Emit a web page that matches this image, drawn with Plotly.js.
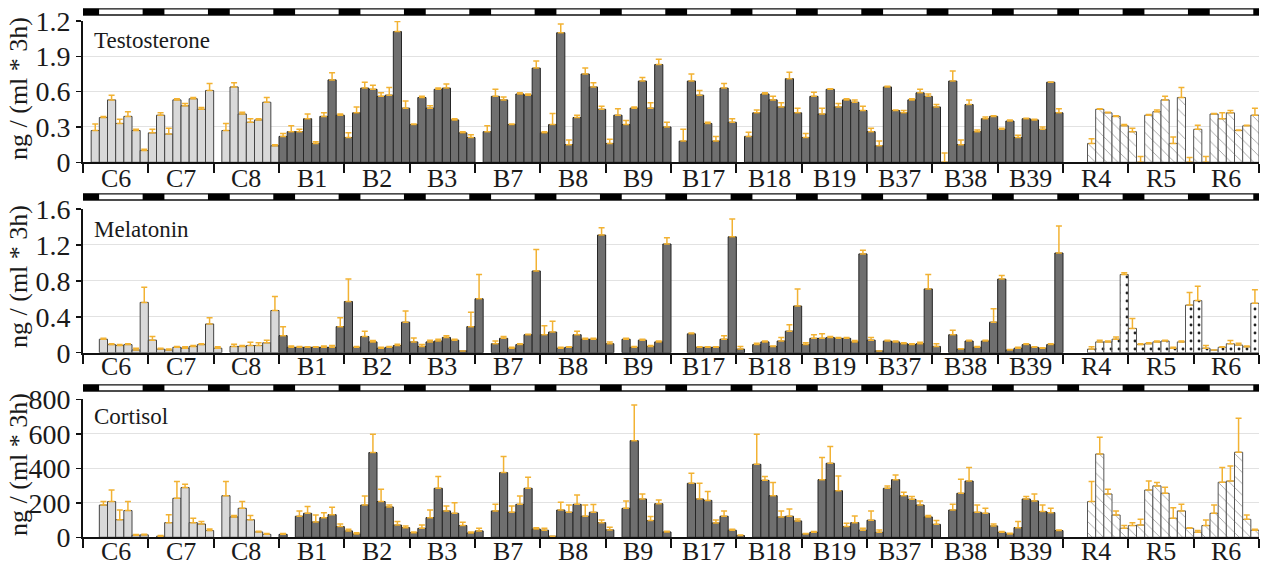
<!DOCTYPE html>
<html><head><meta charset="utf-8">
<script src="https://cdn.plot.ly/plotly-3.0.1.min.js"></script>
<style>html,body{margin:0;padding:0;background:#fff}#chart{width:1268px;height:571px}</style>
</head><body><div id="chart"></div>
<script>
const groups = ['C6','C7','C8','B1','B2','B3','B7','B8','B9','B17','B18','B19','B37','B38','B39','R4','R5','R6'];
const panelTitles = ['Testosterone','Melatonin','Cortisol'];
const yTitle = 'ng / (ml * 3h)';
const testoTickVals = [0,0.3,0.6,0.9,1.2];
const testoTickText = ['0','0.3','0.6','1.9','1.2'];
const melaTickVals = [0,0.4,0.8,1.2,1.6];
const melaTickText = ['0','0.4','0.8','1.2','1.6'];
const cortTickVals = [0,200,400,600,800];
const cortTickText = ['0','200','400','600','800'];

// 8 samples (3h each) per animal
const testoMean = [
 null,0.27,0.38,0.53,0.33,0.39,0.27,0.10,
 0.25,0.40,0.24,0.53,0.48,0.54,0.45,0.61,
 null,0.27,0.64,0.41,0.34,0.36,0.51,0.14,
 0.22,0.26,0.26,0.37,0.16,0.39,0.70,0.40,
 0.21,0.42,0.63,0.62,0.56,0.57,1.11,0.46,
 0.32,0.55,0.46,0.62,0.63,0.36,0.25,0.21,
 null,0.26,0.56,0.53,0.32,0.58,0.57,0.80,
 0.25,0.32,1.10,0.15,0.38,0.75,0.64,0.45,
 0.16,0.40,0.32,0.46,0.69,0.46,0.83,0.30,
 null,0.18,0.69,0.57,0.33,0.18,0.63,0.34,
 null,0.22,0.42,0.58,0.53,0.47,0.71,0.42,
 0.21,0.56,0.41,0.62,0.47,0.53,0.51,0.44,
 0.26,0.14,0.64,0.44,0.42,0.53,0.59,0.56,
 0.47,0,0.69,0.15,0.49,0.26,0.37,0.39,
 0.28,0.35,0.21,0.37,0.36,0.28,0.68,0.42,
 null,null,null,0.16,0.45,0.42,0.39,0.31,
 0.26,0,0.40,0.43,0.53,0.16,0.55,0,
 0.28,0,0.41,0.37,0.42,0.27,0.31,0.40
];
const testoErr = [
 0,0.055,0.01,0.04,0.035,0.04,0.01,0.01,
 0.03,0.02,0.05,0.01,0.02,0.01,0.015,0.06,
 0,0.06,0.035,0.015,0.03,0.01,0.04,0.01,
 0.025,0.05,0.02,0.04,0.015,0.03,0.06,0.01,
 0.04,0.05,0.05,0.035,0.03,0.065,0.085,0.06,
 0.005,0.01,0.02,0.01,0.035,0.01,0.01,0.025,
 0,0.05,0.06,0.025,0.005,0.01,0.01,0.06,
 0.01,0.095,0.075,0.04,0.02,0.05,0.035,0.025,
 0.035,0.055,0.035,0.01,0.03,0.045,0.045,0.04,
 0,0.10,0.06,0.04,0.01,0.04,0.04,0.03,
 0,0.035,0.025,0.01,0.03,0.035,0.055,0.04,
 0.035,0.035,0.05,0.005,0.03,0.01,0.02,0.035,
 0.03,0.04,0.005,0.005,0.02,0.01,0.03,0.02,
 0.02,0.08,0.085,0.04,0.04,0.015,0.015,0.005,
 0.01,0.01,0.02,0.005,0.005,0.02,0.003,0.035,
 0,0,0,0.04,0.005,0.005,0.005,0.01,
 0.03,0.05,0.005,0.015,0.03,0.055,0.085,0.04,
 0.035,0.05,0.005,0.05,0.02,0.005,0.005,0.06
];
const melaMean = [
 null,null,0.15,0.09,0.08,0.09,0.03,0.56,
 0.14,0.04,0.03,0.06,0.05,0.07,0.09,0.32,
 0.05,null,0.07,0.07,0.08,0.08,0.11,0.47,
 0.19,0.06,0.06,0.06,0.06,0.06,0.06,0.29,
 0.57,0.06,0.18,0.12,0.05,0.06,0.08,0.34,
 0.12,0.07,0.12,0.13,0.17,0.14,0.02,0.29,
 0.60,null,0.10,0.16,0.05,0.09,0.20,0.91,
 0.20,0.23,0.05,0.06,0.20,0.15,0.15,1.31,
 0.10,null,0.15,0.06,0.14,0.07,0.12,1.21,
 null,null,0.21,0.06,0.06,0.06,0.15,1.29,
 0.04,null,0.09,0.12,0.07,0.13,0.24,0.52,
 0.09,0.16,0.16,0.17,0.16,0.16,0.12,1.10,
 0.14,0.02,0.13,0.12,0.10,0.09,0.10,0.71,
 0.07,null,0.20,0.04,0.13,0.06,0.13,0.34,
 0.82,0.03,0.05,0.09,0.06,0.05,0.09,1.11,
 null,null,null,0.04,0.12,0.12,0.15,0.87,
 0.27,0.09,0.10,0.12,0.13,0.05,0.12,0.53,
 0.58,0.05,0.03,0.06,0.10,0.085,0.065,0.55
];
const melaErr = [
 0,0,0.01,0.01,0.01,0.01,0.02,0.17,
 0.04,0.01,0.01,0.01,0.015,0.01,0.01,0.07,
 0.015,0,0.025,0.01,0.035,0.03,0.03,0.155,
 0.10,0.015,0.01,0.005,0.005,0.015,0.02,0.10,
 0.25,0.01,0.06,0.015,0.01,0.01,0.015,0.125,
 0.045,0.02,0.02,0.02,0.02,0.01,0,0.16,
 0.27,0,0.03,0.02,0.01,0.01,0.005,0.24,
 0.10,0.12,0.01,0.005,0.04,0.01,0.01,0.08,
 0.02,0,0.01,0.01,0.01,0.01,0.01,0.07,
 0,0,0.01,0.005,0.005,0.005,0.04,0.20,
 0.03,0,0.015,0.01,0.005,0.04,0.07,0.19,
 0.02,0.04,0.05,0.01,0.01,0.01,0.015,0.04,
 0.03,0,0.01,0.01,0.01,0.01,0.015,0.16,
 0.03,0,0.05,0.005,0.01,0.01,0.01,0.15,
 0.04,0.005,0.01,0.01,0.005,0.005,0.01,0.30,
 0,0,0,0.025,0.02,0.01,0.025,0.02,
 0.11,0.01,0.01,0.01,0.01,0.01,0.01,0.14,
 0.16,0.03,0,0.005,0.035,0.02,0.01,0.15
];
const cortMean = [
 null,null,187,207,102,155,12,14,
 null,6,85,226,288,85,77,39,
 null,241,118,168,102,31,17,null,
 17,null,122,139,89,114,131,62,
 37,19,187,491,207,176,71,56,
 27,52,114,284,153,139,68,25,
 37,null,153,375,145,191,284,48,
 41,6,158,145,191,122,145,85,
 43,null,168,560,222,97,195,31,
 null,null,313,222,214,83,122,41,
 10,null,423,330,241,118,122,95,
 19,29,334,429,270,62,85,41,
 99,29,284,334,241,220,187,118,
 75,null,158,255,326,145,139,66,
 29,19,56,222,211,149,143,39,
 null,null,null,207,483,251,129,52,
 68,71,274,298,255,110,153,52,
 29,68,139,319,326,493,104,41
];
const cortErr = [
 0,0,20,67,56,52,4,3,
 0,4,45,97,19,25,14,9,
 0,82,8,39,24,4,5,0,
 5,0,30,40,40,28,43,15,
 9,8,53,106,71,11,20,10,
 3,19,44,68,29,62,19,5,
 15,0,38,93,37,49,64,7,
 11,0,45,42,54,65,45,15,
 15,0,43,207,29,23,21,4,
 0,0,58,91,51,17,31,6,
 3,0,174,22,76,35,42,11,
 3,4,128,97,85,19,39,11,
 54,13,14,27,20,16,24,8,
 22,0,33,81,78,42,29,11,
 5,4,35,14,40,38,25,4,
 0,0,0,116,97,27,24,16,
 17,33,53,19,35,62,38,4,
 10,32,48,85,87,197,25,6
];

const FONT = 'Liberation Serif, Times New Roman, serif';
const ERRC = '#F2B233';
const NB = groups.length * 8;
const idx = Array.from({length: NB}, (_, i) => i);

const panels = [
  {mean: testoMean, err: testoErr, range:[0,1.2], tv: testoTickVals, tt: testoTickText, dom:[1-162.3/571, 1-21/571], strip:[1-15/571, 1-8.8/571], labY: 1-178.5/571, titleY: 1-40/571, ytY: 1-89/571, pat:'\\'},
  {mean: melaMean, err: melaErr, range:[0,1.6], tv: melaTickVals, tt: melaTickText, dom:[1-352.7/571, 1-209/571], strip:[1-200/571, 1-193.8/571], labY: 1-366/571, titleY: 1-229/571, ytY: 1-277/571, pat:'.'},
  {mean: cortMean, err: cortErr, range:[0,800], tv: cortTickVals, tt: cortTickText, dom:[1-537.3/571, 1-399.3/571], strip:[1-391/571, 1-384.8/571], labY: 1-551.5/571, titleY: 1-416/571, ytY: 1-465/571, pat:'\\'}
];

const types = [
  {g0:0, g1:3, fill:'#d9d9d9', line:'#444444', pattern:false},
  {g0:3, g1:15, fill:'#6f6f6f', line:'#262626', pattern:false},
  {g0:15, g1:18, fill:'#ffffff', line:'#555555', pattern:true}
];

const data = [];
const layout = {
  width:1268, height:571,
  margin:{l:83, r:9, t:0, b:0, autoexpand:false},
  paper_bgcolor:'#fff', plot_bgcolor:'#fff',
  showlegend:false, barmode:'overlay',
  shapes:[], annotations:[]
};
const boundaries = [];
for (let g = 0; g <= groups.length; g++) boundaries.push(g*8 - 0.5);

panels.forEach((p, k) => {
  const s = k === 0 ? '' : String(k+1);
  types.forEach(t => {
    const a = t.g0*8, b = t.g1*8;
    const marker = {color: t.fill, line:{color: t.line, width:1}};
    if (t.pattern) marker.pattern = p.pat === '.'
      ? {shape:'.', fgcolor:'#222', bgcolor:'#fff', size:8, solidity:0.1, fillmode:'replace'}
      : {shape:'\\', fgcolor:'#444', fgopacity:0.8, bgcolor:'#fff', size:8, solidity:0.07, fillmode:'replace'};
    data.push({
      type:'bar', x: idx.slice(a,b), y: p.mean.slice(a,b), width:1,
      xaxis:'x'+s, yaxis:'y'+s, marker,
      error_y:{type:'data', symmetric:false, array:p.err.slice(a,b), arrayminus:p.err.slice(a,b).map(()=>0), color:ERRC, thickness:1.5, width:3},
      hoverinfo:'skip'
    });
  });
  layout['xaxis'+s] = {
    anchor:'y'+s, range:[-0.5, NB-0.5], showline:true, linecolor:'#111', linewidth:2,
    tickmode:'array', tickvals: boundaries, ticktext: boundaries.map(()=>''),
    ticks:'outside', ticklen:9, tickwidth:2, tickcolor:'#111',
    showgrid:false, zeroline:false, fixedrange:true
  };
  layout['yaxis'+s] = {
    anchor:'x'+s, domain:p.dom, range:p.range, tickmode:'array', tickvals:p.tv, ticktext:p.tt,
    ticks:'outside', ticklen:5, tickwidth:1.5, tickcolor:'#111',
    showline:true, linecolor:'#111', linewidth:2,
    showgrid:true, gridcolor:'#e2e2e2', gridwidth:1, zeroline:false,
    tickfont:{family:FONT, size:28, color:'#1a1a1a'}, fixedrange:true
  };
  // light/dark strip
  layout.shapes.push({type:'rect', xref:'x'+s, yref:'paper', x0:-0.5, x1:NB-0.5, y0:p.strip[0], y1:p.strip[1], fillcolor:'#fff', line:{color:'#111', width:1.3}, layer:'above'});
  boundaries.forEach(bd => {
    const x0 = Math.max(-0.5, bd - 0.7), x1 = Math.min(NB-0.5, bd + 1.97);
    if (x1 > x0) layout.shapes.push({type:'rect', xref:'x'+s, yref:'paper', x0, x1, y0:p.strip[0], y1:p.strip[1], fillcolor:'#000', line:{width:0}, layer:'above'});
  });
  // group labels
  groups.forEach((g, i) => {
    layout.annotations.push({xref:'x'+s, yref:'paper', x: i*8+3.5, y: p.labY, text: g, showarrow:false, xanchor:'center', yanchor:'middle', font:{family:FONT, size:26, color:'#1a1a1a'}});
  });
  layout.annotations.push({xref:'paper', yref:'paper', x: 9/1176, y: p.titleY, text: panelTitles[k], showarrow:false, xanchor:'left', yanchor:'middle', font:{family:FONT, size:23, color:'#1a1a1a'}});
  layout.annotations.push({xref:'paper', yref:'paper', x: -65/1176, y: p.ytY, text: yTitle, textangle:-90, showarrow:false, xanchor:'center', yanchor:'middle', font:{family:FONT, size:26, color:'#1a1a1a'}});
});

Plotly.newPlot('chart', data, layout, {staticPlot:true, displayModeBar:false});
</script>
</body></html>
